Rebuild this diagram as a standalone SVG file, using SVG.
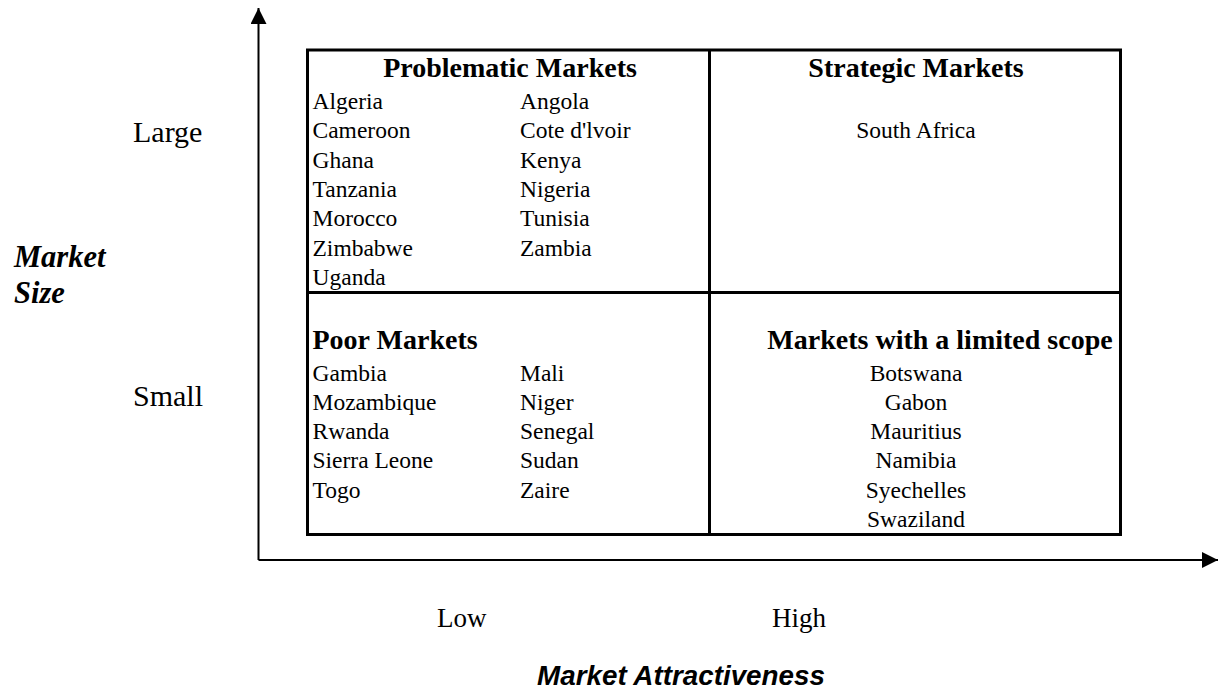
<svg xmlns="http://www.w3.org/2000/svg" width="1220" height="692" viewBox="0 0 1220 692">
  <style>
    .t { font-family: "Liberation Serif", "Times New Roman", serif; font-size: 23.5px; fill: #000; }
    .h { font-family: "Liberation Serif", "Times New Roman", serif; font-size: 28px; font-weight: bold; fill: #000; }
    .ax { font-family: "Liberation Serif", "Times New Roman", serif; font-size: 30px; fill: #000; }
    .lv { font-family: "Liberation Serif", "Times New Roman", serif; font-size: 27px; fill: #000; }
    .yt { font-family: "Liberation Serif", "Times New Roman", serif; font-size: 30.5px; font-weight: bold; font-style: italic; fill: #000; }
    .xt { font-family: "Liberation Sans", Arial, sans-serif; font-size: 27.8px; font-weight: bold; font-style: italic; fill: #000; }
    .c { text-anchor: middle; }
    .grid { fill: none; stroke: #000; stroke-width: 3; }
    .axis { fill: none; stroke: #000; stroke-width: 2; }
  </style>
  <defs>
    <marker id="arrow" viewBox="0 0 16 16" refX="16" refY="8" markerWidth="16" markerHeight="16" markerUnits="userSpaceOnUse" orient="auto">
      <path d="M0,0 L16,8 L0,16 Z" fill="#000"/>
    </marker>
  </defs>
  <rect width="1220" height="692" fill="#fff"/>

  <!-- axes -->
  <g id="connectors">
    <path class="axis" d="M258.5,560 L258.5,8" marker-end="url(#arrow)"/>
    <path class="axis" d="M258.5,560 L1218,560" marker-end="url(#arrow)"/>
  </g>

  <!-- quadrant frame -->
  <g id="grid">
    <rect class="grid" x="307.5" y="50" width="813" height="484.5"/>
    <line class="grid" x1="709.5" y1="50" x2="709.5" y2="534.5"/>
    <line class="grid" x1="307.5" y1="292.5" x2="1120.5" y2="292.5"/>
  </g>

  <g id="problematic">
    <text class="h c" x="510" y="77">Problematic Markets</text>
    <text class="t" x="312.5" y="109">Algeria</text>
    <text class="t" x="312.5" y="138.3">Cameroon</text>
    <text class="t" x="312.5" y="167.6">Ghana</text>
    <text class="t" x="312.5" y="196.9">Tanzania</text>
    <text class="t" x="312.5" y="226.2">Morocco</text>
    <text class="t" x="312.5" y="255.5">Zimbabwe</text>
    <text class="t" x="312.5" y="284.8">Uganda</text>
    <text class="t" x="520" y="109">Angola</text>
    <text class="t" x="520" y="138.3">Cote d'lvoir</text>
    <text class="t" x="520" y="167.6">Kenya</text>
    <text class="t" x="520" y="196.9">Nigeria</text>
    <text class="t" x="520" y="226.2">Tunisia</text>
    <text class="t" x="520" y="255.5">Zambia</text>
  </g>

  <g id="strategic">
    <text class="h c" x="916" y="77">Strategic Markets</text>
    <text class="t c" x="916" y="138.3">South Africa</text>
  </g>

  <g id="poor">
    <text class="h" x="312.5" y="349">Poor Markets</text>
    <text class="t" x="312.5" y="380.5">Gambia</text>
    <text class="t" x="312.5" y="409.8">Mozambique</text>
    <text class="t" x="312.5" y="439.1">Rwanda</text>
    <text class="t" x="312.5" y="468.4">Sierra Leone</text>
    <text class="t" x="312.5" y="497.7">Togo</text>
    <text class="t" x="520" y="380.5">Mali</text>
    <text class="t" x="520" y="409.8">Niger</text>
    <text class="t" x="520" y="439.1">Senegal</text>
    <text class="t" x="520" y="468.4">Sudan</text>
    <text class="t" x="520" y="497.7">Zaire</text>
  </g>

  <g id="limited">
    <text class="h c" x="940" y="349">Markets with a limited scope</text>
    <text class="t c" x="916" y="380.5">Botswana</text>
    <text class="t c" x="916" y="409.8">Gabon</text>
    <text class="t c" x="916" y="439.1">Mauritius</text>
    <text class="t c" x="916" y="468.4">Namibia</text>
    <text class="t c" x="916" y="497.7">Syechelles</text>
    <text class="t c" x="916" y="527">Swaziland</text>
  </g>

  <!-- axis labels -->
  <g id="y-labels">
    <text class="ax" x="133" y="142">Large</text>
    <text class="ax" x="133" y="406">Small</text>
    <text class="yt" x="14" y="266.5">Market</text>
    <text class="yt" x="14" y="303">Size</text>
  </g>
  <g id="x-labels">
    <text class="lv" x="437" y="627">Low</text>
    <text class="lv" x="772" y="627">High</text>
    <text class="xt c" x="681" y="685">Market Attractiveness</text>
  </g>
</svg>
